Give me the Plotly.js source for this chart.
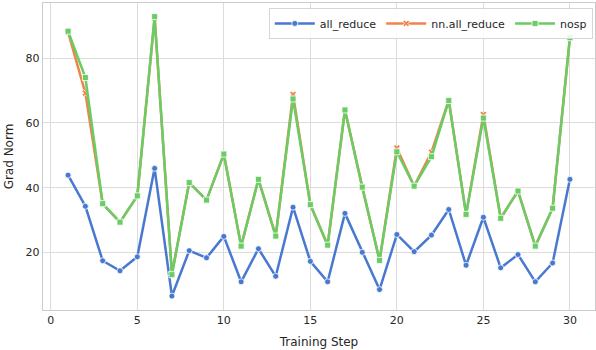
<!DOCTYPE html>
<html>
<head>
<meta charset="utf-8">
<script src="https://cdn.plot.ly/plotly-3.0.1.min.js"></script>
<style>html,body{margin:0;padding:0;background:#fff;}#chart{width:596px;height:350px;}</style>
</head>
<body>
<div id="chart"></div>
<script>
const steps = [1,2,3,4,5,6,7,8,9,10,11,12,13,14,15,16,17,18,19,20,21,22,23,24,25,26,27,28,29,30];
const allReduce = [43.9,34.3,17.5,14.4,18.7,46.0,6.6,20.6,18.4,25.0,11.0,21.2,12.7,34.0,17.3,11.0,32.1,20.1,8.6,25.6,20.3,25.4,33.3,16.1,30.9,15.3,19.4,11.0,16.8,42.6];
const nnAllReduce = [88.0,69.2,35.0,29.4,37.5,92.4,13.5,41.6,36.2,50.4,22.0,42.6,25.2,68.8,34.8,22.3,64.0,40.2,17.6,52.3,40.5,51.0,67.0,31.8,62.6,30.6,39.0,22.0,33.7,86.3];
const nosp = [88.3,74.0,35.1,29.4,37.5,92.8,13.2,41.6,36.2,50.4,22.0,42.6,25.1,67.4,34.8,22.3,64.0,40.2,17.6,51.1,40.5,49.6,66.9,31.8,61.5,30.6,39.0,22.0,33.7,86.3];
const seriesNames = ["all_reduce","nn.all_reduce","nosp"];
const xTicks = [0,5,10,15,20,25,30];
const yTicks = [20,40,60,80];

const colors = ["#4878d0","#ee854a","#6acc64"];
const symbols = ["circle","x","square"];
const data = [allReduce, nnAllReduce, nosp].map((ys, i) => ({
  x: steps, y: ys, name: seriesNames[i], type: "scatter", mode: "lines+markers",
  line: {color: colors[i], width: 2.5},
  marker: {symbol: symbols[i], size: 6, color: colors[i], line: {color: "#ffffff", width: 0.8}},
  hoverinfo: "skip"
}));

const axisCommon = {
  showgrid: true, gridcolor: "#dcdcdc", gridwidth: 1,
  showline: true, linecolor: "#cccccc", linewidth: 1.2, mirror: true,
  zeroline: false, ticks: "", tickfont: {family: "DejaVu Sans", size: 11, color: "#262626"}
};

const layout = {
  width: 596, height: 350,
  margin: {l: 43, r: 1, t: 3, b: 40},
  paper_bgcolor: "#ffffff", plot_bgcolor: "#ffffff",
  font: {family: "DejaVu Sans", color: "#262626"},
  showlegend: true,
  legend: {
    orientation: "h", x: 0.996, xanchor: "right", y: 0.984, yanchor: "top",
    bgcolor: "rgba(255,255,255,0.85)", bordercolor: "#d6d6d6", borderwidth: 1,
    font: {family: "DejaVu Sans", size: 11, color: "#262626"},
    itemwidth: 40, tracegroupgap: 0
  },
  xaxis: Object.assign({}, axisCommon, {
    range: [-0.45, 31.45], tickvals: xTicks, ticktext: xTicks.map(String),
    title: {text: "Training Step", font: {family: "DejaVu Sans", size: 12, color: "#262626"}, standoff: 11}
  }),
  yaxis: Object.assign({}, axisCommon, {
    range: [2.3, 97.0], tickvals: yTicks, ticktext: yTicks.map(String),
    title: {text: "Grad Norm", font: {family: "DejaVu Sans", size: 12, color: "#262626"}, standoff: 9}
  })
};

Plotly.newPlot("chart", data, layout, {displayModeBar: false, staticPlot: true});
</script>
</body>
</html>
